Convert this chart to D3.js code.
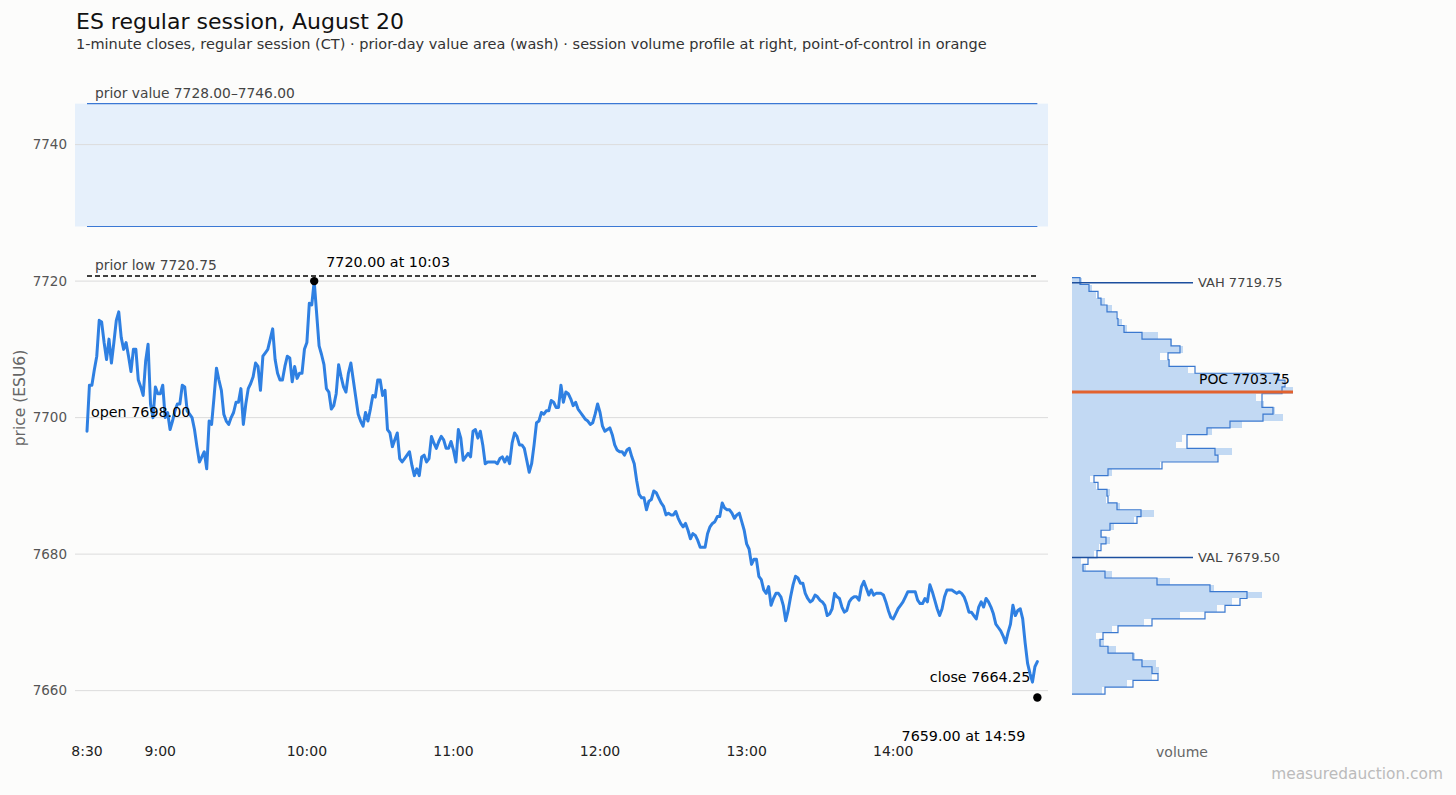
<!DOCTYPE html>
<html><head><meta charset="utf-8">
<script src="https://cdn.jsdelivr.net/npm/d3@7"></script>
<style>
html,body{margin:0;background:#fcfcfb;}
svg{display:block;font-family:"DejaVu Sans",sans-serif;}
</style></head><body>
<svg id="c" width="1456" height="795"></svg>
<script>
// ---------- data ----------
const sessionOpen = "8:30";
const sessionClose = "15:00";
const closes = [
7698,7704.75,7704.75,7707,7709,7714.25,7714,7711,7708.5,7711.5,
7708,7711,7714.25,7715.5,7711.75,7710,7711,7709,7706.75,7710,
7710,7705.5,7704.5,7703.25,7708.25,7710.75,7702,7700,7704.5,7703.5,
7703.5,7704.75,7700,7700.75,7698.25,7699.5,7701,7702,7702,7704.75,
7704.5,7701,7700.5,7700,7698.25,7695.75,7693.5,7694.25,7695,7692.5,
7699.5,7699,7703,7707.25,7705.5,7704,7700.5,7699.5,7699,7700,
7700.75,7702.25,7702.25,7704.25,7699,7702,7704.25,7705,7706,7708,
7707.5,7704,7709,7709.5,7710,7711.5,7713,7708.5,7706.5,7705.5,
7705.5,7707.5,7709,7708.75,7705.25,7707.5,7705.75,7706.5,7706.5,7710,
7711,7716.75,7716.5,7720,7715.25,7710.5,7709.25,7707.75,7704.25,7703.75,
7701.25,7701.75,7703.5,7707.75,7706,7704.5,7703.75,7706.5,7708,7705.5,
7703,7700.5,7699.5,7698.75,7700.75,7699.5,7701.25,7703.25,7703,7705.5,
7705.5,7703.25,7704,7698.25,7697.75,7695.75,7696.75,7697.75,7694,7693.5,
7694,7694.5,7695,7693,7691.5,7692.5,7691.5,7694.25,7694.5,7693.5,
7694,7697.25,7696.25,7695.5,7696.5,7697.25,7696.75,7695.5,7695.5,7696.5,
7695.25,7693.5,7698.25,7697,7693.75,7694.25,7694.75,7694.25,7698,7698.25,
7697,7698,7696,7693.25,7693.5,7693.5,7693.5,7693.5,7693.25,7694,
7694.25,7693.5,7694.25,7693.25,7696.25,7697.75,7697.25,7696,7696,7695.5,
7693.75,7692,7693.25,7696,7699.25,7699.5,7700.75,7700.5,7701,7701,
7702.5,7702.25,7701.5,7701.5,7704.75,7702.25,7703.75,7703.5,7702.75,7701.75,
7702.25,7701.25,7700.75,7700.25,7699.75,7699.5,7699,7699.25,7700.5,7702,
7700.75,7698.75,7698,7698.25,7698.5,7697.5,7696,7695.25,7695,7695,
7694.5,7695.25,7695.5,7694.25,7693.25,7690.75,7688.75,7688.25,7688.25,7686.5,
7687.75,7688,7689.25,7689,7688.25,7687.5,7687,7685.75,7686,7685.75,
7685.75,7686.25,7685.25,7684.5,7684,7684.5,7683.5,7682.25,7683,7682.75,
7682,7681,7681,7681,7683,7684,7684.5,7684.75,7685.5,7685.5,
7687.5,7686.75,7686.5,7686.5,7686,7685.25,7685.75,7686,7684.75,7683.5,
7681.5,7680.75,7678.5,7679.25,7679.25,7676.75,7676.25,7674.75,7674.25,7675.25,
7672.5,7673.5,7674.25,7674.25,7673.75,7672.5,7670.25,7671.75,7673.75,7675.5,
7676.75,7676.5,7675.75,7675.75,7674.25,7673.5,7673,7673.25,7674,7673.75,
7673.25,7673,7672.5,7671,7671.25,7672,7674.25,7673.75,7673.5,7672.25,
7671.5,7671.75,7673,7673.5,7673.75,7673.75,7673.25,7675.25,7676,7675,
7674,7674.75,7674,7674.25,7674.25,7674.25,7674,7673,7671.75,7670.75,
7670.5,7671.25,7672,7672.5,7673,7673.75,7674.5,7674.5,7674.5,7674.5,
7673.25,7672.75,7672.75,7673.5,7673,7675.5,7674.5,7673.25,7672,7671,
7672,7673.75,7674.75,7674.75,7674.75,7674.5,7674.25,7674.5,7674.25,7673.75,
7672.75,7671.5,7671.5,7671,7670.5,7672.25,7673,7672.25,7673.5,7673,
7672.25,7671.25,7669.75,7669.25,7668.75,7668,7667,7668.5,7669.75,7672.5,
7671,7671.75,7672,7670.5,7667,7664,7662.5,7661.25,7663.5,7664.25
];
const timeTicks = ["8:30","9:00","10:00","11:00","12:00","13:00","14:00"];
const priceTicks = [7660, 7680, 7700, 7720, 7740];
const priorValueArea = [7728.00, 7746.00];
const priorLow = 7720.75;
const sessionHigh = {time: "10:03", price: 7720.00};
const sessionLow = {time: "14:59", price: 7659.00};
const openPrice = 7698.00;
const closePrice = 7664.25;

// volume profile, price levels from top (7720) to bottom (7660)
const profileLevels = [
7720,7719,7718,7717,7716,7715,7714,7713,7712,7711,
7710,7709,7708,7707,7706,7705,7704,7703,7702,7701,
7700,7699,7698,7697,7696,7695,7694,7693,7692,7691,
7690,7689,7688,7687,7686,7685,7684,7683,7682,7681,
7680,7679,7678,7677,7676,7675,7674,7673,7672,7671,
7670,7669,7668,7667,7666,7665,7664,7663,7662,7661,7660];
const profileVolume = [
10,20,24,33,40,44,50,55,86,100,
111,88,98,116,208,212,221,184,192,203,
211,170,140,110,104,160,146,88,40,18,
24,38,34,48,82,62,42,30,38,27,
22,9,14,40,98,142,190,160,145,108,
72,40,24,32,44,63,84,87,80,55,30];
const profileSmoothed = [
8,17,26,29,35,45,46,52,70,99,
108,96,97,123,206,213,210,190,190,201,
191,158,135,115,115,143,146,90,36,22,
26,35,36,45,69,65,38,29,34,29,
25,16,11,33,85,138,175,168,153,133,
80,46,31,28,36,61,70,80,86,61,33];
const valueArea = {VAH: 7719.75, POC: 7703.75, VAL: 7679.50};

// ---------- helpers ----------
const toMin = s => { const [h, m] = s.split(":").map(Number); return h * 60 + m; };
const fmt2 = d3.format(".2f");

const svg = d3.select("#c");

const x = d3.scaleLinear().domain([toMin(sessionOpen), toMin(sessionClose)]).range([87, 1039.8]);
const y = d3.scaleLinear().domain([7653.5, 7748]).range([735, 90]);
const xv = d3.scaleLinear().domain([0, d3.max(profileVolume)]).range([1072, 1293]);

const plotL = 75, plotR = 1048;
const tOpen = toMin(sessionOpen);
const tLast = tOpen + closes.length - 1;

// ---------- titles ----------
svg.append("text").attr("x", 76).attr("y", 29).attr("font-size", 22).attr("fill", "#111")
  .text("ES regular session, August 20");
svg.append("text").attr("x", 76).attr("y", 49).attr("font-size", 14.5).attr("fill", "#333")
  .text("1-minute closes, regular session (CT) \u00b7 prior-day value area (wash) \u00b7 session volume profile at right, point-of-control in orange");

// ---------- prior value wash ----------
svg.append("rect").attr("x", plotL).attr("width", plotR - plotL)
  .attr("y", y(priorValueArea[1])).attr("height", y(priorValueArea[0]) - y(priorValueArea[1]))
  .attr("fill", "#e6f0fb");

// gridlines
svg.append("g").selectAll("line").data(priceTicks).join("line")
  .attr("x1", plotL).attr("x2", plotR).attr("y1", d => y(d)).attr("y2", d => y(d))
  .attr("stroke", "#dcdcdc").attr("stroke-width", 1);

// value area edges
svg.append("g").selectAll("line").data(priorValueArea).join("line")
  .attr("x1", x(tOpen)).attr("x2", x(tLast)).attr("y1", d => y(d)).attr("y2", d => y(d))
  .attr("stroke", "#3b78d4").attr("stroke-width", 1.1);
svg.append("text").attr("x", 95).attr("y", y(priorValueArea[1]) - 6).attr("font-size", 13.8).attr("fill", "#444")
  .text(`prior value ${fmt2(priorValueArea[0])}\u2013${fmt2(priorValueArea[1])}`);

// prior low
svg.append("line").attr("x1", x(tOpen)).attr("x2", x(tLast)).attr("y1", y(priorLow)).attr("y2", y(priorLow))
  .attr("stroke", "#000").attr("stroke-width", 1.3).attr("stroke-dasharray", "5,3");
svg.append("text").attr("x", 95).attr("y", y(priorLow) - 6).attr("font-size", 13.8).attr("fill", "#444")
  .text(`prior low ${fmt2(priorLow)}`);

// y tick labels
svg.append("g").selectAll("text").data(priceTicks).join("text")
  .attr("x", 67).attr("y", d => y(d)).attr("dy", "0.35em").attr("text-anchor", "end")
  .attr("font-size", 13.5).attr("fill", "#555").text(d => d);
svg.append("text").attr("transform", `translate(25,398) rotate(-90)`)
  .attr("text-anchor", "middle").attr("font-size", 15.5).attr("fill", "#666").text("price (ESU6)");

// x tick labels
svg.append("g").selectAll("text").data(timeTicks).join("text")
  .attr("x", d => x(toMin(d))).attr("y", 756).attr("text-anchor", "middle")
  .attr("font-size", 14).attr("fill", "#222").text(d => d);

// ---------- price line ----------
const line = d3.line().x((d, i) => x(tOpen + i)).y(d => y(d));
svg.append("path").datum(closes).attr("d", line).attr("fill", "none")
  .attr("stroke", "#2f80e2").attr("stroke-width", 3).attr("stroke-linejoin", "round").attr("stroke-linecap", "round");

// high / low markers
svg.append("circle").attr("cx", x(toMin(sessionHigh.time))).attr("cy", y(sessionHigh.price)).attr("r", 4.2).attr("fill", "#000");
svg.append("text").attr("x", x(toMin(sessionHigh.time)) + 12).attr("y", y(sessionHigh.price) - 14)
  .attr("font-size", 14.3).attr("fill", "#000").text(`${fmt2(sessionHigh.price)} at ${sessionHigh.time}`);
svg.append("circle").attr("cx", x(toMin(sessionLow.time))).attr("cy", y(sessionLow.price)).attr("r", 4.2).attr("fill", "#000");
svg.append("text").attr("x", x(toMin(sessionLow.time)) - 12).attr("y", y(sessionLow.price) + 44)
  .attr("text-anchor", "end").attr("font-size", 14.3).attr("fill", "#000").text(`${fmt2(sessionLow.price)} at ${sessionLow.time}`);

// open / close labels
svg.append("text").attr("x", x(tOpen) + 4).attr("y", y(openPrice) - 14)
  .attr("font-size", 14.3).attr("fill", "#000").text(`open ${fmt2(openPrice)}`);
svg.append("text").attr("x", x(tLast) - 7).attr("y", y(closePrice) + 20)
  .attr("text-anchor", "end").attr("font-size", 14.3).attr("fill", "#000").text(`close ${fmt2(closePrice)}`);

// ---------- volume profile ----------
const prof = profileLevels.map((p, i) => ({p, v: profileVolume[i], s: profileSmoothed[i]}));
svg.append("g").selectAll("rect").data(prof).join("rect")
  .attr("x", xv(0)).attr("width", d => xv(d.v) - xv(0))
  .attr("y", d => y(d.p + 0.5)).attr("height", d => y(d.p - 0.5) - y(d.p + 0.5))
  .attr("fill", "#c2d9f3").attr("shape-rendering", "crispEdges");

const op = d3.path();
op.moveTo(xv(0), y(prof[0].p + 0.5));
prof.forEach(d => {
  op.lineTo(xv(d.s), y(d.p + 0.5));
  op.lineTo(xv(d.s), y(d.p - 0.5));
});
op.lineTo(xv(0), y(prof[prof.length - 1].p - 0.5));
svg.append("path").attr("d", op.toString()).attr("fill", "none")
  .attr("stroke", "#3a78cf").attr("stroke-width", 1.2);

// VAH / VAL
const vaLineEnd = xv(0) + 121;
[["VAH", valueArea.VAH], ["VAL", valueArea.VAL]].forEach(([k, v]) => {
  svg.append("line").attr("x1", xv(0)).attr("x2", vaLineEnd).attr("y1", y(v)).attr("y2", y(v))
    .attr("stroke", "#1c4f9e").attr("stroke-width", 1.5);
  svg.append("text").attr("x", vaLineEnd + 5).attr("y", y(v)).attr("dy", "0.35em")
    .attr("font-size", 13).attr("fill", "#444").text(`${k} ${fmt2(v)}`);
});
// POC
svg.append("line").attr("x1", xv(0)).attr("x2", xv(d3.max(profileVolume))).attr("y1", y(valueArea.POC)).attr("y2", y(valueArea.POC))
  .attr("stroke", "#e2622e").attr("stroke-width", 3);
svg.append("text").attr("x", vaLineEnd + 6).attr("y", y(valueArea.POC) - 8)
  .attr("font-size", 13.9).attr("fill", "#000").text(`POC ${fmt2(valueArea.POC)}`);

svg.append("text").attr("x", 1182).attr("y", 757).attr("text-anchor", "middle")
  .attr("font-size", 14).attr("fill", "#666").text("volume");

svg.append("text").attr("x", 1443).attr("y", 779).attr("text-anchor", "end")
  .attr("font-size", 15.4).attr("fill", "#bbb").text("measuredauction.com");
</script>
</body></html>
